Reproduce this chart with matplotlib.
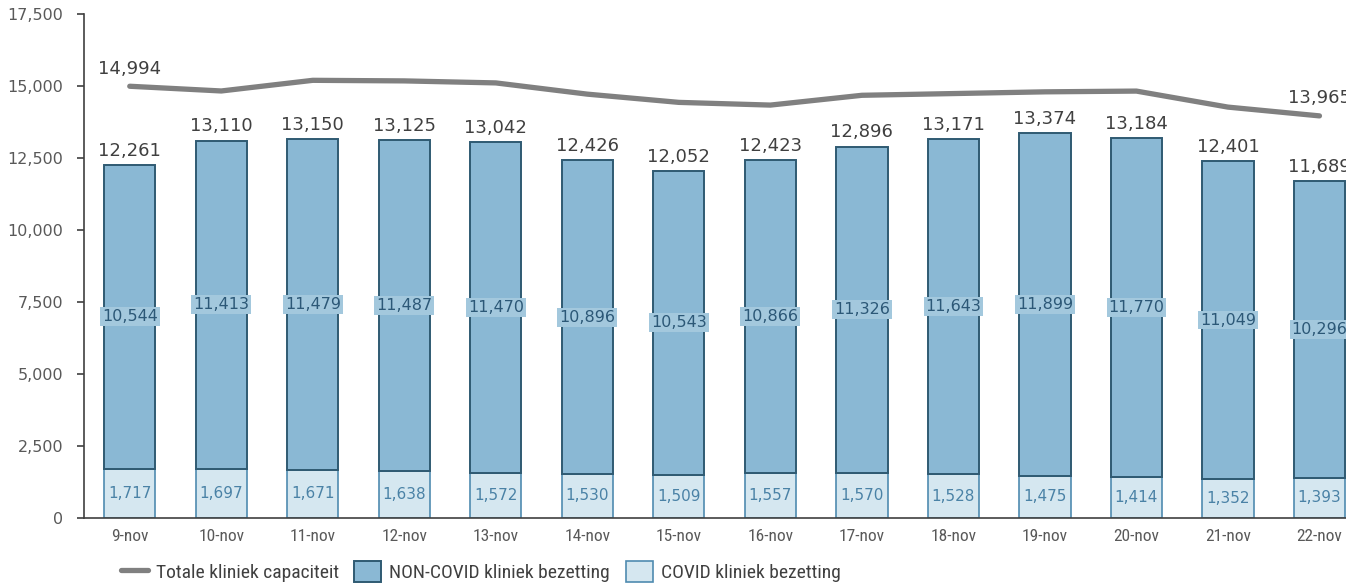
import matplotlib.pyplot as plt
import numpy as np

dagen = ['9-nov', '10-nov', '11-nov', '12-nov', '13-nov', '14-nov', '15-nov',
         '16-nov', '17-nov', '18-nov', '19-nov', '20-nov', '21-nov', '22-nov']
covid = [1717, 1697, 1671, 1638, 1572, 1530, 1509, 1557, 1570, 1528, 1475, 1414, 1352, 1393]
non_covid = [10544, 11413, 11479, 11487, 11470, 10896, 10543, 10866, 11326, 11643,
             11899, 11770, 11049, 10296]
totaal = [12261, 13110, 13150, 13125, 13042, 12426, 12052, 12423, 12896, 13171,
          13374, 13184, 12401, 11689]
capaciteit = [14994, 14830, 15200, 15180, 15110, 14720, 14434, 14340, 14680, 14740,
              14800, 14826, 14270, 13965]

narrow = ['Roboto Condensed', 'Liberation Sans Narrow', 'Roboto']
plt.rcParams['font.family'] = ['DejaVu Sans']

fig = plt.figure(figsize=(13.46, 5.87), dpi=100)
ax = fig.add_axes([0.0624, 0.1175, 0.9376, 0.8585])

x = np.arange(len(dagen))
w = 0.56
b_covid = ax.bar(x, covid, w, color='#d5e7f0', edgecolor='#4f8bb0', linewidth=1.2)
b_non = ax.bar(x, non_covid, w, bottom=covid, color='#8ab8d4', edgecolor='#2f5a72',
               linewidth=1.4)
lijn, = ax.plot(x, capaciteit, color='#808080', linewidth=3.8, solid_capstyle='round')

for i in range(len(dagen)):
    ax.text(x[i], covid[i] / 2, f'{covid[i]:,}', ha='center', va='center',
            fontsize=11, color='#4a82a6')
    ax.text(x[i], covid[i] + non_covid[i] / 2, f'{non_covid[i]:,}', ha='center',
            va='center', fontsize=11.5, color='#2c5877',
            bbox=dict(boxstyle='square,pad=0.12', fc='#a3c8dd', ec='none'))
    ax.text(x[i], totaal[i] + 180, f'{totaal[i]:,}', ha='center', va='bottom',
            fontsize=13, color='#404040')

for i in [0, len(dagen) - 1]:
    ax.text(x[i], capaciteit[i] + 300, f'{capaciteit[i]:,}', ha='center',
            va='bottom', fontsize=13, color='#404040')

ax.set_xlim(-0.5, 13.29)
ax.set_ylim(0, 17500)
ax.set_yticks(np.arange(0, 17501, 2500))
ax.set_yticklabels([f'{v:,}' for v in range(0, 17501, 2500)], fontsize=11.5,
                   color='#595959')
ax.set_xticks(x)
ax.set_xticklabels(dagen, family=narrow, fontsize=12.5, color='#595959')
ax.tick_params(axis='x', length=0, pad=8)
ax.tick_params(axis='y', length=5, width=1.2, color='#404040', pad=10)
ax.spines['top'].set_visible(False)
ax.spines['right'].set_visible(False)
ax.spines['left'].set_color('#404040')
ax.spines['bottom'].set_color('#404040')
ax.spines['left'].set_linewidth(1.2)
ax.spines['bottom'].set_linewidth(1.2)

fig.legend([lijn, b_non, b_covid],
           ['Totale kliniek capaciteit', 'NON-COVID kliniek bezetting',
            'COVID kliniek bezetting'],
           loc='center', bbox_to_anchor=(0.357, 0.026), ncol=3,
           frameon=False, prop={'family': narrow, 'size': 14},
           labelcolor='#404040', handlelength=1.4, handleheight=1.3,
           columnspacing=0.8, handletextpad=0.4)

fig.savefig('out.png', dpi=100)
